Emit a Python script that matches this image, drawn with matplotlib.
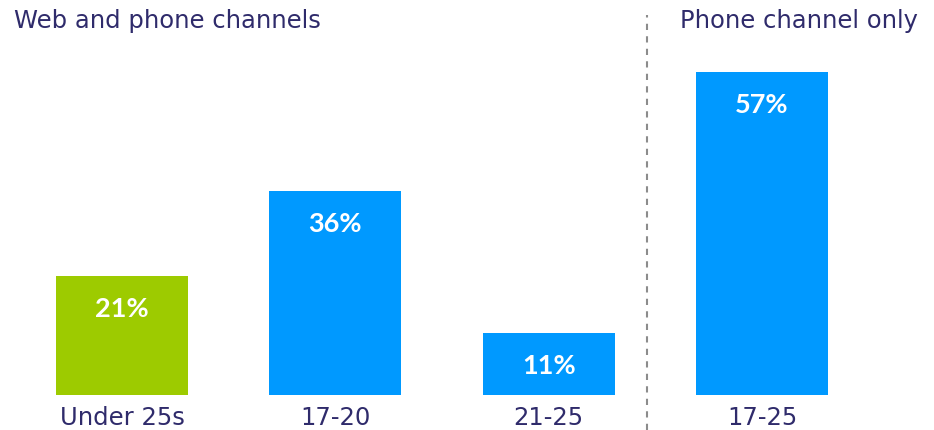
import matplotlib.pyplot as plt

# data
categories = ["Under 25s", "17-20", "21-25", "17-25"]
values = [21, 36, 11, 57]
bar_colors = ["#9dcb00", "#0099ff", "#0099ff", "#0099ff"]
group_titles = ["Web and phone channels", "Phone channel only"]

text_color = "#2f2b6b"
plt.rcParams['font.family'] = 'DejaVu Sans'

fig = plt.figure(figsize=(9.34, 4.30), dpi=100)
ax = fig.add_axes([15.3 / 934, 35 / 430, 853.4 / 934, 340 / 430])

x = list(range(len(categories)))
bars = ax.bar(x, values, width=0.62, color=bar_colors)

ax.set_xlim(-0.5, 3.5)
ax.set_ylim(0, 60)

# value labels inside bars
for xi, v in zip(x, values):
    ax.annotate(f"{v}%", (xi, v), xytext=(0, -24), textcoords="offset points",
                ha="center", va="center", color="white",
                fontsize=19.5, fontweight="bold", family="Lato")

# category labels under bars
ax.set_xticks(x)
ax.set_xticklabels(categories, fontsize=17.5, color=text_color,
                   family="DejaVu Sans")
ax.tick_params(axis="x", length=0, pad=8)
ax.set_yticks([])
for s in ax.spines.values():
    s.set_visible(False)

# separator between groups
sep_x = 2.46
ax.plot([sep_x, sep_x], [-6.1, 67], linestyle=(0, (3, 3)), color="#8c8c8c",
        linewidth=1.5, clip_on=False)

# group titles
fig.text(14 / 934, 1 - 21 / 430, group_titles[0], fontsize=17.5, color=text_color,
         ha="left", va="center", family="DejaVu Sans")
fig.text(680 / 934, 1 - 21 / 430, group_titles[1], fontsize=17.5, color=text_color,
         ha="left", va="center", family="DejaVu Sans")

fig.savefig("out.png", dpi=100)
